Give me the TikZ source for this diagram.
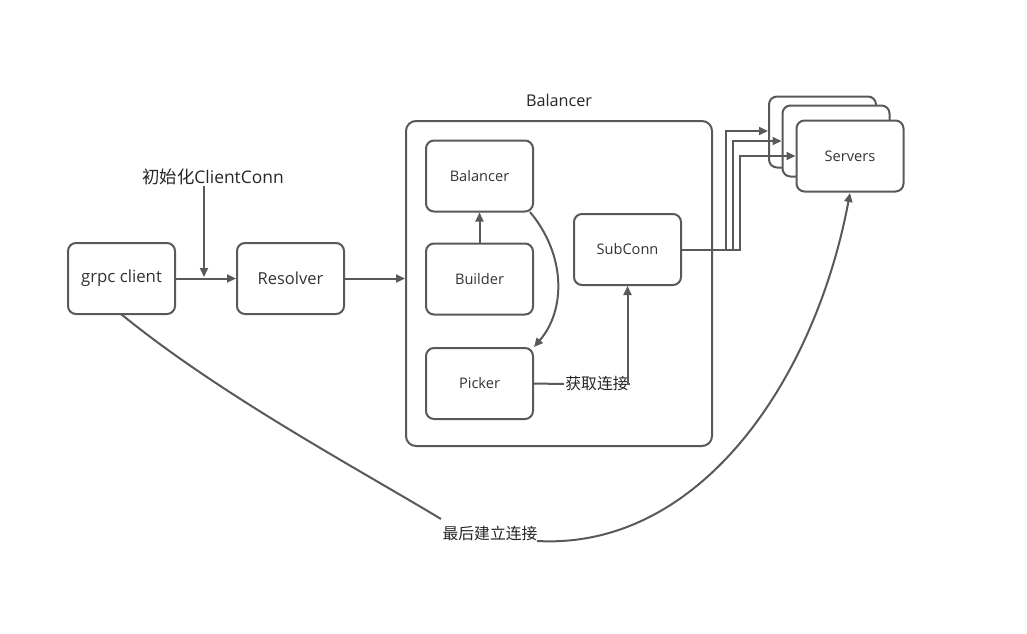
\documentclass[tikz,border=0pt]{standalone}
\usepackage{fontspec}
\setmainfont{Open Sans}
\newfontfamily\cjk{Noto Sans CJK SC}
\usetikzlibrary{arrows.meta}
\definecolor{ln}{HTML}{595959}
\begin{document}
\begin{tikzpicture}[x=1pt,y=-1pt,
  box/.style={draw=ln,line width=2pt,rounded corners=8pt,minimum width=107pt,minimum height=71pt,fill=white,text=black!80,font=\fontsize{14.6}{16}\selectfont},
  arr/.style={draw=ln,line width=2pt,-{Triangle[width=8pt,length=9pt]}},
  lbl/.style={fill=white,inner sep=1pt,text=black!85,font=\fontsize{15.8}{18}\selectfont}]
\useasboundingbox (0,0) rectangle (1027,633);

% left part
\node[box,font=\fontsize{16.8}{19}\selectfont] (client) at (121.5,278.5) {grpc client};
\node[box,font=\fontsize{16.5}{19}\selectfont] (res) at (290.5,278.5) {Resolver};
\node[lbl,font=\fontsize{17.4}{20}\selectfont] (init) at (213,177) {{\cjk 初始化}ClientConn};

% balancer
\node[box,minimum width=306pt,minimum height=325pt,rounded corners=10pt] (bal) at (559,283.5) {};
\node[lbl,fill=none,font=\fontsize{16.2}{18}\selectfont] (baltxt) at (559,100) {Balancer};
\node[box] (inner) at (479.5,176) {Balancer};
\node[box] (build) at (479.5,279) {Builder};
\node[box] (pick) at (479.5,383.5) {Picker};
\node[box] (sub) at (627.5,249.5) {SubConn};

% servers
\node[box] (srvA) at (822.5,132) {};
\node[box] (srvB) at (836,141) {};
\node[box] (srv) at (850,156) {Servers};

\draw[arr] (client.east) -- (res.west);
\coordinate (hit) at (204,277);
\draw[arr] (init.south -| hit) -- (hit);
\draw[arr] (res.east) -- (res.east -| bal.west);
\draw[arr] (build.north) -- (inner.south);
\draw[arr] (530,212) .. controls (566,255) and (566,310) .. (pick.north east);
\node[lbl,font=\cjk\fontsize{15.8}{18}\selectfont] (get) at (597,384) {获取连接};
\draw[draw=ln,line width=2pt] (pick.east) -- (get.west);
\draw[arr] (get.east) -| (sub.south);

\draw[arr] (sub.east) -- ++(44,0) |- (srvA.west |- 0,131);
\draw[arr] (sub.east) -- ++(51,0) |- (srvB.west |- 0,141);
\draw[arr] (sub.east) -- ++(58,0) |- (srv.west |- 0,156);

\node[lbl,font=\cjk\fontsize{15.8}{18}\selectfont] (last) at (490,533) {最后建立连接};
\draw[draw=ln,line width=2pt] (121,314) .. controls (220,395) and (360,470) .. (441,519);
\draw[arr] (537,541) .. controls (700,550) and (815,380) .. (850,193);
\end{tikzpicture}
\end{document}
